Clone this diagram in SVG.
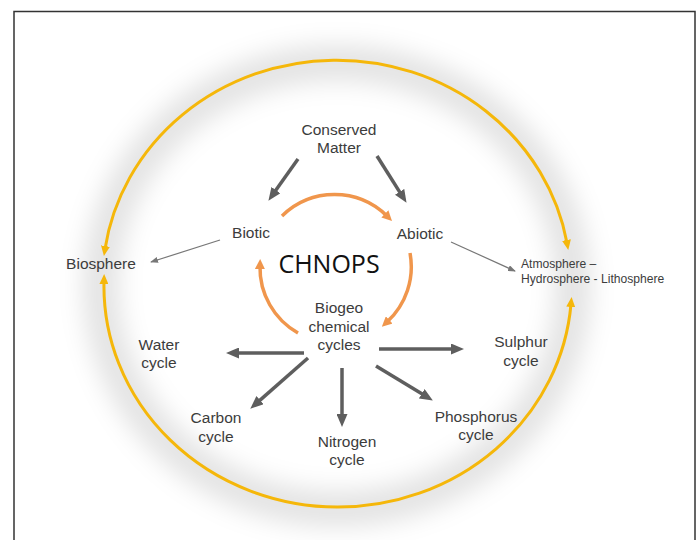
<svg xmlns="http://www.w3.org/2000/svg" width="699" height="540" viewBox="0 0 699 540">
<defs>
<filter id="blur" x="-30%" y="-30%" width="160%" height="160%"><feGaussianBlur stdDeviation="12"/></filter>
<marker id="ag" markerUnits="userSpaceOnUse" markerWidth="13" markerHeight="11" refX="3" refY="5.5" orient="auto"><path d="M0,0 L13,5.5 L0,11 z" fill="#5e5e5e"/></marker>
<marker id="at" markerUnits="userSpaceOnUse" markerWidth="8" markerHeight="6" refX="7" refY="3" orient="auto"><path d="M0,0 L8,3 L0,6 z" fill="#777"/></marker>
<marker id="ao" markerUnits="userSpaceOnUse" markerWidth="10" markerHeight="10" refX="3" refY="5" orient="auto"><path d="M0,0 L10,5 L0,10 z" fill="#f0964c"/></marker>
<marker id="ay" markerUnits="userSpaceOnUse" markerWidth="10" markerHeight="9" refX="3" refY="4.5" orient="auto-start-reverse"><path d="M0,0 L10,4.5 L0,9 z" fill="#f5b70a"/></marker>
</defs>
<style>
.t{font-family:"Liberation Sans",Arial,sans-serif;font-size:15.5px;fill:#3c3c3c;text-anchor:middle}
.s{font-family:"Liberation Sans",Arial,sans-serif;font-size:12.1px;fill:#3c3c3c}
.g{stroke:#5e5e5e;stroke-width:3.5;fill:none;marker-end:url(#ag)}
.th{stroke:#777;stroke-width:1.2;fill:none;marker-end:url(#at)}
.o{stroke:#f0964c;stroke-width:3.5;fill:none;marker-end:url(#ao)}
.y{stroke:#f5b70a;stroke-width:3;fill:none;marker-start:url(#ay);marker-end:url(#ay)}
</style>
<rect x="0" y="0" width="699" height="540" fill="#fff"/>
<rect x="14" y="11.5" width="681" height="560" fill="none" stroke="#333" stroke-width="1.5"/>
<g id="glow">
<ellipse cx="337" cy="286" rx="236" ry="223" fill="none" stroke="#000" stroke-opacity="0.11" stroke-width="36" filter="url(#blur)"/>
</g>
<g id="connectors">
<path class="y" d="M567 243 A234 221 0 0 0 105 249"/>
<path class="y" d="M104 281 A234 221 0 0 0 337 507 A234 221 0 0 0 571 304"/>
<path class="o" d="M282 216 A75 75 0 0 1 387 216"/>
<path class="o" d="M410 253 A75 75 0 0 1 387 322"/>
<path class="o" d="M298 333 A75 75 0 0 1 260 266"/>
<line class="g" x1="298" y1="159" x2="274.2" y2="192.6"/>
<line class="g" x1="377" y1="156" x2="401.2" y2="194.4"/>
<line class="g" x1="304" y1="353" x2="236" y2="353"/>
<line class="g" x1="379" y1="349" x2="454" y2="349"/>
<line class="g" x1="308" y1="358" x2="257.8" y2="402.1"/>
<line class="g" x1="342" y1="368" x2="342" y2="417"/>
<line class="g" x1="376" y1="366" x2="424.3" y2="395.3"/>
<line class="th" x1="220" y1="240" x2="151" y2="262"/>
<line class="th" x1="451" y1="242" x2="515" y2="271"/>
</g>
<g id="conserved"><text class="t" x="339" y="135">Conserved</text><text class="t" x="339" y="153">Matter</text></g>
<g id="biotic"><text class="t" x="251" y="238">Biotic</text></g>
<g id="abiotic"><text class="t" x="420" y="239">Abiotic</text></g>
<g id="biosphere"><text class="t" x="101" y="269">Biosphere</text></g>
<g id="atmosphere"><text class="s" x="521" y="268">Atmosphere –</text><text class="s" x="521" y="283">Hydrosphere - Lithosphere</text></g>
<g id="chnops"><text x="329" y="273" style="font-family:'Open Sans',sans-serif;font-size:25px;fill:#111;text-anchor:middle">CHNOPS</text></g>
<g id="biogeo"><text class="t" x="339" y="313">Biogeo</text><text class="t" x="339" y="332">chemical</text><text class="t" x="339" y="350">cycles</text></g>
<g id="water"><text class="t" x="159" y="350">Water</text><text class="t" x="159" y="368">cycle</text></g>
<g id="sulphur"><text class="t" x="521" y="347">Sulphur</text><text class="t" x="521" y="366">cycle</text></g>
<g id="carbon"><text class="t" x="216" y="423">Carbon</text><text class="t" x="216" y="442">cycle</text></g>
<g id="nitrogen"><text class="t" x="347" y="447">Nitrogen</text><text class="t" x="347" y="465">cycle</text></g>
<g id="phosphorus"><text class="t" x="476" y="422">Phosphorus</text><text class="t" x="476" y="440">cycle</text></g>
</svg>
